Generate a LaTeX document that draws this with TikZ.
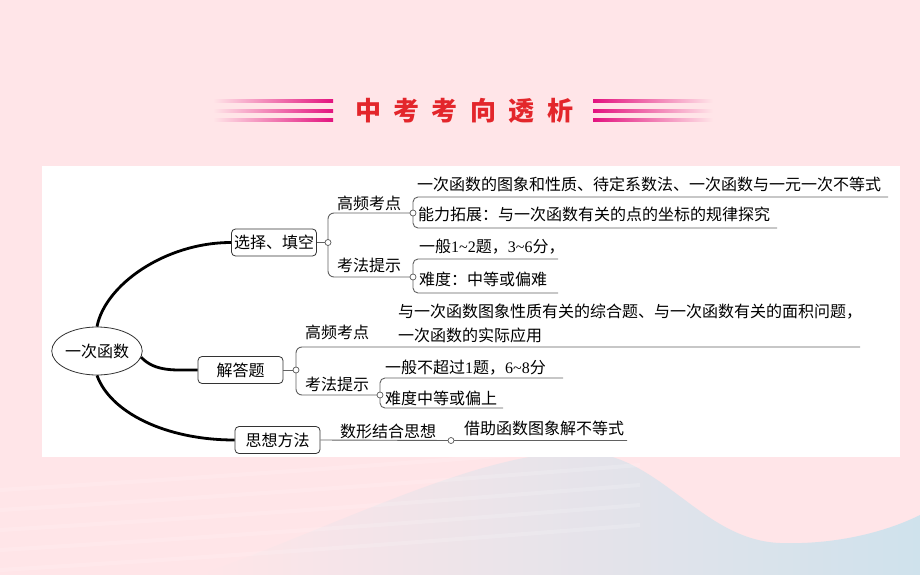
\documentclass[tikz,border=0pt]{standalone}
\usepackage{fontspec}
\setmainfont{Noto Sans CJK SC}
\newfontfamily\lat{Liberation Serif}
\usetikzlibrary{shapes.geometric}
\definecolor{bg}{HTML}{FFE5E8}
\definecolor{wavebl}{HTML}{CFE2EC}
\definecolor{titlered}{HTML}{E3262B}
\definecolor{stripemag}{HTML}{E3137F}
\definecolor{stripemid}{HTML}{B27394}
\newcommand\tld{\char"7E\relax}
\tikzset{
  txt/.style={inner sep=0pt, font=\fontsize{16}{18}\selectfont},
  box/.style={draw=black!80, rounded corners=4pt, minimum height=27pt, minimum width=85pt, inner sep=2pt, line width=0.8pt, fill=white, font=\fontsize{16}{18}\selectfont},
  conn/.style={draw=black!62, line width=0.9pt},
  thickc/.style={draw=black, line width=2.8pt},
  dot/.style={circle, draw=black!65, fill=white, inner sep=0pt, minimum size=6pt, line width=0.7pt},
  titlech/.style={font=\fontsize{26}{28}\selectfont\bfseries, text=titlered, inner sep=0pt}
}
\begin{document}
\begin{tikzpicture}[x=1pt,y=-1pt]
\useasboundingbox (0,0) rectangle (920,575);
\fill[bg] (0,0) rectangle (920,575);
% bottom wave
\shade[left color=bg, right color=wavebl] (200,575) .. controls (350,520) and (480,452) .. (580,452) .. controls (660,452) and (700,540) .. (780,543) .. controls (840,545) and (890,530) .. (920,515) -- (920,575) -- cycle;
\foreach \yy in {470,490,510,530,550}{
  \draw[white, opacity=0.15, line width=4pt] (0,\yy+20) .. controls (250,\yy+5) and (450,\yy-10) .. (640,\yy-25);
}
% white panel
\fill[white] (42,166) rectangle (900,457);
% title stripes
\foreach \yy in {101,111,120}{
  \shade[left color=bg, middle color=stripemid, right color=stripemag] (213,\yy-1.8) rectangle (333,\yy+1.8);
  \shade[left color=stripemag, middle color=stripemid, right color=bg] (593,\yy-1.8) rectangle (713,\yy+1.8);
}
\foreach \ch [count=\i from 0] in {中,考,考,向,透,析}{
  \node[titlech] (title\i) at (368+\i*38.4,111) {\ch};
}
% main nodes
\node[draw=black!80, line width=0.8pt, ellipse, minimum width=85pt, minimum height=48pt, inner sep=0pt, font=\fontsize{16}{18}\selectfont, fill=white] (root) at (97,351) {一次函数};
\node[box] (b1) at (274,242.5) {选择、填空};
\node[box] (b2) at (240.5,370) {解答题};
\node[box] (b3) at (277.5,440) {思想方法};
% thick curves
\draw[thickc] (root.north) .. controls (105,285) and (165,242.5) .. (b1.west);
\draw[thickc] (root.-8) .. controls (155,372) and (175,370) .. (b2.west);
\draw[thickc] (root.south) .. controls (110,412) and (165,440) .. (b3.west);
% junction points
\coordinate (p1) at (328,242.5);
\coordinate (p11) at (413,213);
\coordinate (p12) at (413,277);
\coordinate (p2) at (296,370);
\coordinate (p21) at (860,347);
\coordinate (p22) at (380,395);
\coordinate (p3) at (451,440.5);
\coordinate (p3e) at (627,440.5);
% branch 1
\draw[conn] (b1.east) -- (p1);
\draw[conn, rounded corners=6pt] (p1) |- (p11);
\draw[conn, rounded corners=6pt] (p1) |- (p12);
\coordinate (g1a) at (888,197); \coordinate (g1b) at (413,197);
\coordinate (g1c) at (413,228); \coordinate (g1d) at (777,228);
\draw[conn, rounded corners=5pt] (g1a) -- (g1b) -- (g1c) -- (g1d);
\coordinate (g2a) at (558,259); \coordinate (g2b) at (413,259);
\coordinate (g2c) at (413,293); \coordinate (g2d) at (558,293);
\draw[conn, rounded corners=5pt] (g2a) -- (g2b) -- (g2c) -- (g2d);
% branch 2
\draw[conn] (b2.east) -- (p2);
\draw[conn, rounded corners=6pt] (p2) |- (p21);
\draw[conn, rounded corners=6pt] (p2) |- (p22);
\coordinate (g3a) at (563,378); \coordinate (g3b) at (380,378);
\coordinate (g3c) at (380,408); \coordinate (g3d) at (503,408);
\draw[conn, rounded corners=5pt] (g3a) -- (g3b) -- (g3c) -- (g3d);
% branch 3
\draw[conn] (b3.east) -- (p3) -- (p3e);
% dots
\node[dot] (c1) at (p1) {};
\node[dot] (c11) at (p11) {};
\node[dot] (c12) at (p12) {};
\node[dot] (c2) at (p2) {};
\node[dot] (c22) at (p22) {};
\node[dot] (c3) at (p3) {};
% labels
\node[txt] (l11) at (369,203) {高频考点};
\node[txt] (l12) at (369,265) {考法提示};
\node[txt] (l21) at (337,332) {高频考点};
\node[txt] (l22) at (337,384) {考法提示};
\node[txt] (l31) at (388,431) {数形结合思想};
% leaf texts
\node[txt, anchor=west] (t11) at (417,184) {一次函数的图象和性质、待定系数法、一次函数与一元一次不等式};
\node[txt, anchor=west] (t12) at (418,214) {能力拓展：与一次函数有关的点的坐标的规律探究};
\node[txt, anchor=west] (t13) at (419,247) {一般{\lat 1\tld 2}题，{\lat 3\tld 6}分，};
\node[txt, anchor=west] (t14) at (419,279) {难度：中等或偏难};
\node[txt, anchor=west] (t21) at (398,312) {与一次函数图象性质有关的综合题、与一次函数有关的面积问题，};
\node[txt, anchor=west] (t22) at (398,335) {一次函数的实际应用};
\node[txt, anchor=west] (t23) at (385,368) {一般不超过{\lat 1}题，{\lat 6\tld 8}分};
\node[txt, anchor=west] (t24) at (385,398) {难度中等或偏上};
\node[txt] (t31) at (544,428) {借助函数图象解不等式};
\end{tikzpicture}
\end{document}
